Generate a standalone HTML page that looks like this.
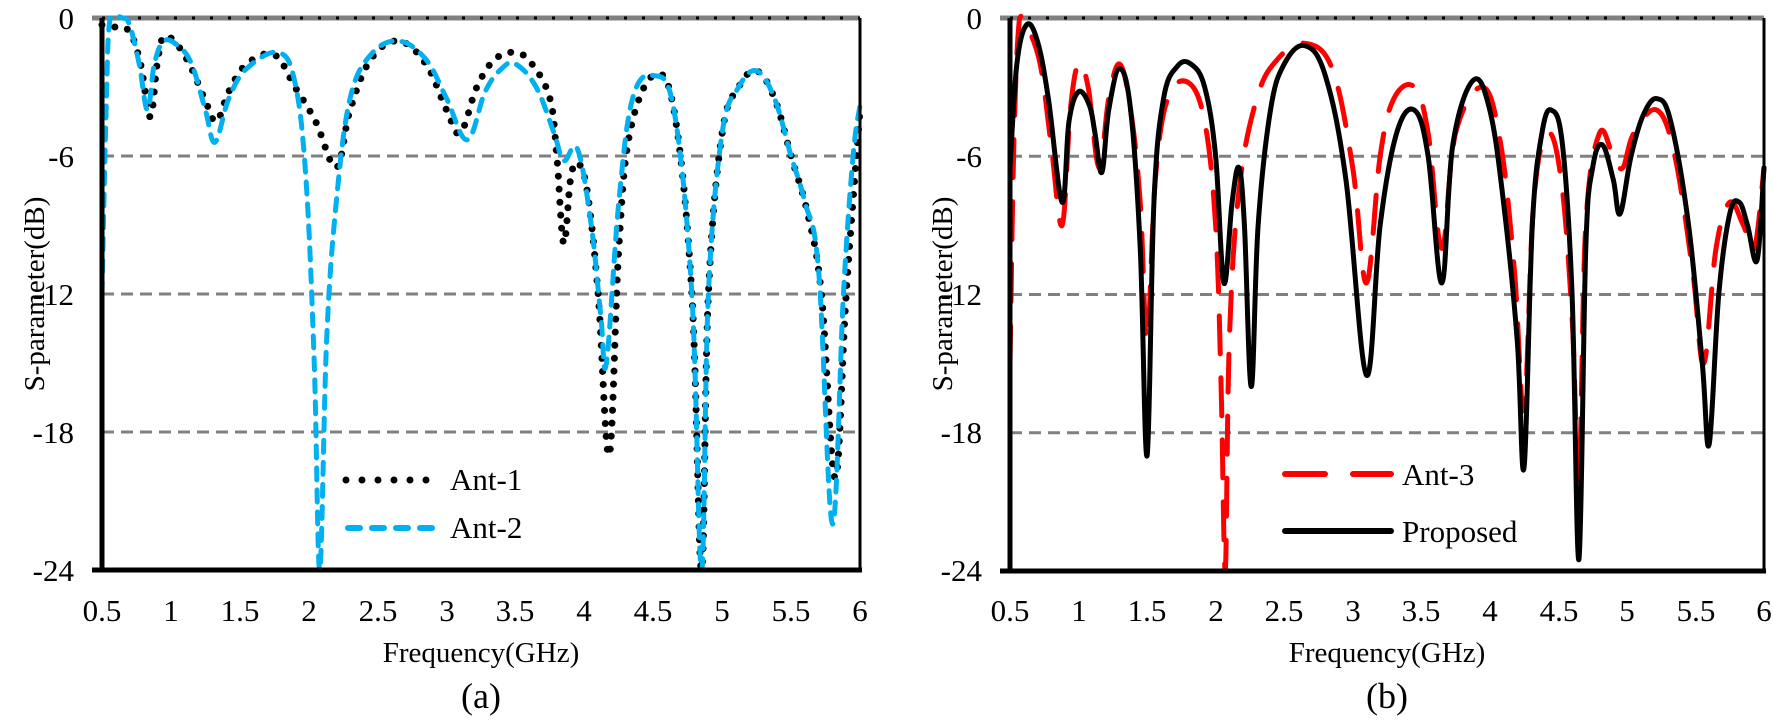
<!DOCTYPE html>
<html><head><meta charset="utf-8">
<style>
html,body{margin:0;padding:0;background:#fff;}
svg{display:block;}
svg text{font-family:"Liberation Serif","DejaVu Serif",serif;}
</style></head>
<body>
<svg id="s" width="1773" height="728" viewBox="0 0 1773 728" xmlns="http://www.w3.org/2000/svg">
<g font-size="31" fill="#000">
<text x="74" y="29" text-anchor="end">0</text>
<text x="74" y="167" text-anchor="end">-6</text>
<text x="74" y="305" text-anchor="end">-12</text>
<text x="74" y="443" text-anchor="end">-18</text>
<text x="74" y="581" text-anchor="end">-24</text>
<g text-anchor="middle">
<text x="102" y="621">0.5</text><text x="171" y="621">1</text><text x="240" y="621">1.5</text><text x="309" y="621">2</text><text x="378" y="621">2.5</text><text x="447" y="621">3</text><text x="515" y="621">3.5</text><text x="584" y="621">4</text><text x="653" y="621">4.5</text><text x="722" y="621">5</text><text x="791" y="621">5.5</text><text x="860" y="621">6</text>
</g>
<text x="481" y="662" text-anchor="middle" font-size="29">Frequency(GHz)</text>
<text x="481" y="708" text-anchor="middle" font-size="36">(a)</text>
<text transform="translate(44,294) rotate(-90)" text-anchor="middle" font-size="29">S-parameter(dB)</text>
<text x="982" y="29" text-anchor="end">0</text>
<text x="982" y="167" text-anchor="end">-6</text>
<text x="982" y="305" text-anchor="end">-12</text>
<text x="982" y="443" text-anchor="end">-18</text>
<text x="982" y="581" text-anchor="end">-24</text>
<g text-anchor="middle">
<text x="1010" y="621">0.5</text><text x="1079" y="621">1</text><text x="1147" y="621">1.5</text><text x="1216" y="621">2</text><text x="1284" y="621">2.5</text><text x="1353" y="621">3</text><text x="1421" y="621">3.5</text><text x="1490" y="621">4</text><text x="1559" y="621">4.5</text><text x="1627" y="621">5</text><text x="1696" y="621">5.5</text><text x="1764" y="621">6</text>
</g>
<text x="1387" y="662" text-anchor="middle" font-size="29">Frequency(GHz)</text>
<text x="1387" y="708" text-anchor="middle" font-size="36">(b)</text>
<text transform="translate(952,294) rotate(-90)" text-anchor="middle" font-size="29">S-parameter(dB)</text>
</g>
<g id="plots"></g>
<line x1="346" y1="480" x2="433" y2="480" stroke="#000" stroke-width="7" stroke-linecap="round" stroke-dasharray="0 16"/>
<text x="450" y="490" font-size="31">Ant-1</text>
<line x1="348" y1="528" x2="440" y2="528" stroke="#00b0f0" stroke-width="6" stroke-linecap="round" stroke-dasharray="12 12"/>
<text x="450" y="538" font-size="31">Ant-2</text>
<line x1="1285" y1="474" x2="1391" y2="474" stroke="#ff0000" stroke-width="6" stroke-linecap="round" stroke-dasharray="40 28"/>
<text x="1402" y="485" font-size="31">Ant-3</text>
<line x1="1285" y1="531" x2="1391" y2="531" stroke="#000" stroke-width="6" stroke-linecap="round"/>
<text x="1402" y="542" font-size="31">Proposed</text>
</svg>
<script>
var NS="http://www.w3.org/2000/svg";
var g=document.getElementById("plots");
function el(t,a){var e=document.createElementNS(NS,t);for(var k in a)e.setAttribute(k,a[k]);g.appendChild(e);return e;}
function panel(x0,x1,y0,y1,series){
  var fx=function(f){return x0+(f-0.5)/5.5*(x1-x0);};
  var fy=function(d){return y0+(-d)/24*(y1-y0);};
  [-6,-12,-18].forEach(function(d){el("line",{x1:x0,x2:x1,y1:fy(d),y2:fy(d),stroke:"#808080","stroke-width":3,"stroke-dasharray":"12 7"});});
  el("line",{x1:x0-10,x2:x1,y1:y0,y2:y0,stroke:"#808080","stroke-width":5});
  el("line",{x1:x0,x2:x1,y1:y0,y2:y0,stroke:"#000","stroke-width":3,"stroke-dasharray":"3 15"});
  series.forEach(function(s){
    var p=s.pts.map(function(q){return [fx(q[0]),fy(Math.max(q[1],-24))];});
    var d="M"+p[0][0]+","+p[0][1];
    for(var i=0;i<p.length-1;i++){
      var a=p[Math.max(i-1,0)],b=p[i],c=p[i+1],e=p[Math.min(i+2,p.length-1)];
      var t=0.18;
      var c1=[b[0]+(c[0]-a[0])*t,b[1]+(c[1]-a[1])*t];
      var c2=[c[0]-(e[0]-b[0])*t,c[1]-(e[1]-b[1])*t];
      if(c1[1]>y1)c1[1]=y1; if(c2[1]>y1)c2[1]=y1; if(c1[1]<y0-4)c1[1]=y0-4; if(c2[1]<y0-4)c2[1]=y0-4;
      d+=" C"+c1[0]+","+c1[1]+" "+c2[0]+","+c2[1]+" "+c[0]+","+c[1];
    }
    var at={d:d,fill:"none",stroke:s.c,"stroke-width":s.w,"stroke-linecap":"round","stroke-linejoin":"round"};
    if(s.da)at["stroke-dasharray"]=s.da;
    el("path",at);
  });
  el("line",{x1:x0,x2:x0,y1:y0,y2:y1+2,stroke:"#000","stroke-width":5});
  el("line",{x1:x0-10,x2:x1+2,y1:y1,y2:y1,stroke:"#000","stroke-width":5});
  el("line",{x1:x1,x2:x1,y1:y0,y2:y1,stroke:"#000","stroke-width":3});
}
var ant1=[[0.5,-0.3],[0.6,-0.4],[0.7,-0.6],[0.78,-2],[0.85,-4.3],[0.9,-2],[0.95,-0.8],[1.05,-1.2],[1.15,-2.2],[1.25,-3.6],[1.33,-4.5],[1.42,-3.2],[1.55,-2],[1.75,-1.6],[1.9,-3],[2.05,-4.5],[2.2,-6.5],[2.3,-4],[2.45,-1.8],[2.65,-1],[2.85,-2],[3.0,-4],[3.1,-5],[3.22,-3],[3.35,-1.8],[3.5,-1.5],[3.62,-2],[3.75,-3.5],[3.8,-6],[3.85,-9.8],[3.9,-7],[3.95,-6.3],[4.02,-7.5],[4.1,-12],[4.18,-19],[4.25,-10],[4.33,-5],[4.5,-2.5],[4.65,-4],[4.78,-12],[4.85,-24],[4.9,-12],[5.0,-5],[5.12,-3],[5.25,-2.3],[5.38,-3.5],[5.5,-6],[5.62,-8.5],[5.72,-12],[5.82,-20],[5.9,-12],[6.0,-4]];
var ant2=[[0.5,-12],[0.53,-4],[0.56,0],[0.65,0],[0.7,-0.3],[0.77,-2],[0.83,-4],[0.88,-2],[0.95,-1],[1.05,-1.2],[1.15,-2],[1.25,-4],[1.32,-5.4],[1.42,-3.5],[1.55,-2.2],[1.78,-1.5],[1.9,-2.8],[1.98,-7],[2.04,-15],[2.08,-24],[2.13,-14],[2.2,-8],[2.3,-3.5],[2.45,-1.6],[2.65,-1],[2.85,-1.8],[3.0,-3.5],[3.15,-5.3],[3.28,-3.2],[3.4,-2.2],[3.5,-2],[3.65,-3],[3.78,-5],[3.85,-6.2],[3.95,-5.7],[4.05,-9],[4.12,-13],[4.16,-15],[4.25,-8],[4.35,-3.5],[4.5,-2.5],[4.65,-4],[4.78,-12],[4.85,-24],[4.9,-12],[5.0,-5],[5.12,-3],[5.25,-2.3],[5.38,-3.5],[5.5,-6],[5.6,-8],[5.7,-11],[5.8,-22],[5.88,-12],[5.95,-6],[6.0,-3.8]];
var ant3=[[0.5,-15],[0.53,-5],[0.57,0],[0.62,-0.3],[0.72,-2],[0.8,-5.5],[0.88,-9],[0.94,-4],[1.0,-2],[1.07,-3],[1.15,-6.5],[1.22,-3.5],[1.3,-2],[1.38,-4],[1.45,-8],[1.5,-14],[1.56,-7],[1.65,-3.5],[1.8,-2.8],[1.92,-4.5],[2.0,-9],[2.04,-16],[2.07,-24],[2.1,-14],[2.17,-7.5],[2.3,-3.5],[2.45,-1.8],[2.65,-1.1],[2.85,-2.2],[3.0,-6.5],[3.1,-11.5],[3.2,-6],[3.3,-3.5],[3.45,-3],[3.55,-5],[3.65,-10],[3.75,-5],[3.95,-3],[4.08,-5.5],[4.18,-11],[4.25,-17],[4.32,-8],[4.42,-5],[4.52,-7],[4.6,-13],[4.65,-20],[4.7,-9],[4.8,-5],[4.9,-6],[4.97,-6.5],[5.05,-5],[5.22,-4],[5.35,-6],[5.48,-11],[5.56,-15],[5.65,-10],[5.75,-8],[5.85,-9],[5.93,-10],[6.0,-6.5]];
var prop=[[0.5,-6.5],[0.55,-2],[0.62,-0.3],[0.7,-1],[0.78,-3.5],[0.88,-8],[0.93,-4.5],[1.0,-3.2],[1.08,-3.8],[1.12,-5],[1.17,-6.7],[1.22,-4],[1.3,-2.2],[1.38,-4],[1.45,-10],[1.5,-19],[1.55,-8],[1.62,-3.5],[1.72,-2.1],[1.82,-2],[1.92,-3],[2.0,-6],[2.06,-11.5],[2.12,-8],[2.17,-6.5],[2.21,-9],[2.26,-16],[2.31,-9],[2.4,-4],[2.5,-2],[2.65,-1.2],[2.8,-2.5],[2.95,-7],[3.1,-15.5],[3.2,-9],[3.32,-5],[3.45,-4],[3.55,-6],[3.65,-11.5],[3.73,-5.5],[3.88,-2.7],[4.0,-4],[4.1,-8],[4.2,-14],[4.25,-19.5],[4.31,-9],[4.38,-5],[4.45,-4],[4.53,-5.5],[4.6,-12],[4.65,-23.5],[4.7,-10],[4.75,-6.5],[4.82,-5.5],[4.9,-7],[4.95,-8.5],[5.03,-6],[5.12,-4.2],[5.22,-3.5],[5.32,-4.5],[5.45,-9],[5.55,-15],[5.6,-18.5],[5.67,-12],[5.75,-8.5],[5.82,-8],[5.88,-9],[5.95,-10.5],[6.0,-6.5]];
panel(102,860,18,570,[
 {pts:ant1,c:"#000",w:7,da:"0 13"},
 {pts:ant2,c:"#00b0f0",w:5,da:"12 10"}]);
panel(1010,1764,18,571,[
 {pts:ant3,c:"#ff0000",w:5,da:"38 24"},
 {pts:prop,c:"#000",w:5}]);
</script>
</body></html>
